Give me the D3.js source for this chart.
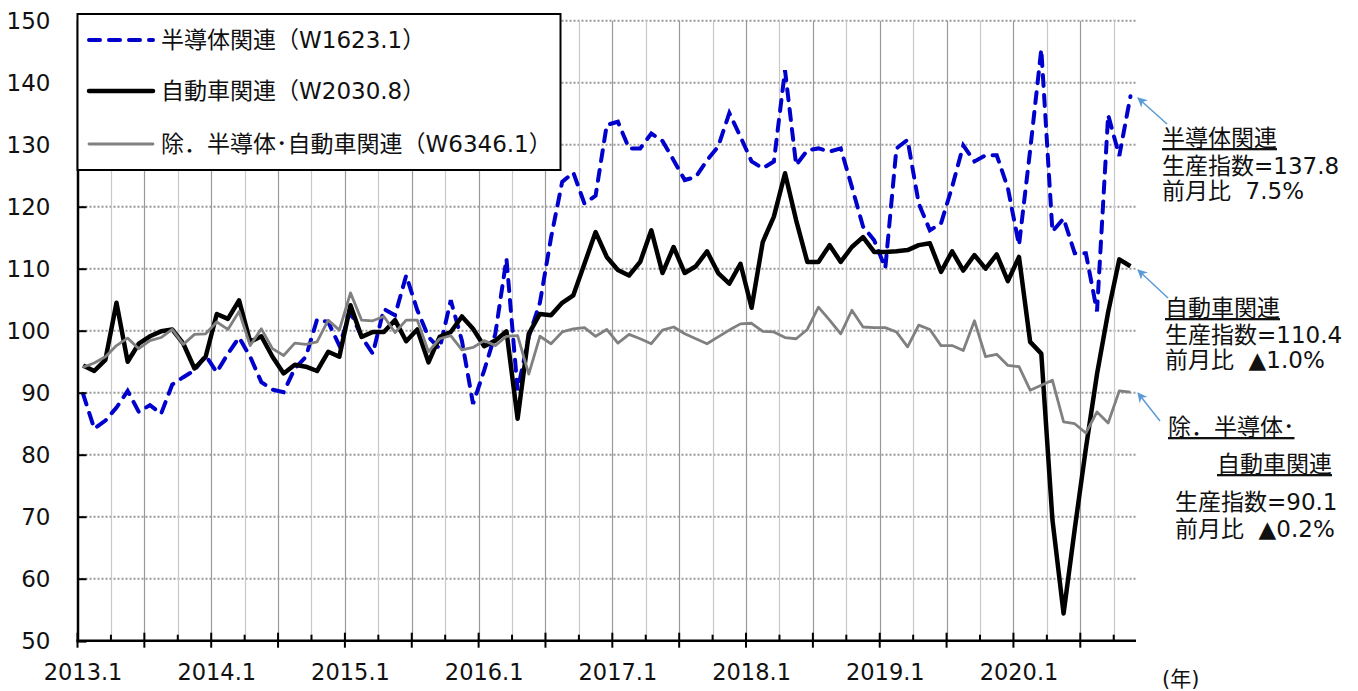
<!DOCTYPE html>
<html>
<head>
<meta charset="utf-8">
<script src="https://cdn.jsdelivr.net/npm/d3@7"></script>
<style>
  body { margin: 0; background: #fff; }
  text { font-family: "DejaVu Sans", "Noto Sans CJK JP", sans-serif; fill: #111; }
</style>
</head>
<body>
<script>
// monthly categories 2013.1 - 2020.11
var months = [];
for (var yr = 2013; yr <= 2020; yr++) {
  for (var m = 1; m <= 12; m++) {
    if (yr == 2020 && m > 11) break;
    months.push(yr + "." + m);
  }
}
var yearLabels = ["2013.1", "2014.1", "2015.1", "2016.1", "2017.1", "2018.1", "2019.1", "2020.1"];
var yTicks = [50, 60, 70, 80, 90, 100, 110, 120, 130, 140, 150];

var seriesNames = ["半導体関連（W1623.1）", "自動車関連（W2030.8）", "除．半導体･自動車関連（W6346.1）"];

// 半導体関連
var semi = [89.8, 84.2, 85.5, 87.6, 90.3, 86.9, 88.0, 86.6, 91.3, 92.5, 93.6, 96.0,
  93.3, 96.3, 98.9, 95.8, 91.7, 90.5, 90.1, 93.9, 95.8, 101.8, 101.4, 97.6,
  103.0, 99.0, 96.3, 103.5, 102.5, 108.9, 103.3, 99.0, 97.1, 104.9, 98.4, 88.2,
  93.6, 99.5, 111.6, 90.4, 99.0, 104.5, 115.0, 124.0, 125.5, 120.5, 121.8, 133.2,
  133.7, 129.4, 129.4, 131.8, 130.6, 127.5, 124.3, 124.8, 127.5, 129.7, 135.1, 131.3,
  127.3, 126.2, 127.3, 142.0, 126.7, 129.1, 129.4, 128.9, 129.4, 123.2, 116.8, 114.6,
  110.1, 129.4, 130.8, 120.5, 116.2, 117.3, 123.2, 129.9, 127.3, 128.3, 128.3, 123.0,
  113.8, 129.1, 145.4, 116.0, 118.1, 112.5, 112.5, 103.1, 134.8, 128.2, 137.8];

// 自動車関連
var auto = [94.4, 93.5, 95.3, 104.5, 95.0, 97.9, 99.1, 99.9, 100.2, 97.9, 93.9, 95.8,
  102.7, 101.9, 104.9, 98.2, 99.1, 95.8, 93.1, 94.5, 94.2, 93.5, 96.6, 95.8,
  104.1, 99.0, 99.8, 99.8, 101.7, 98.3, 100.2, 94.9, 99.0, 99.8, 102.3, 100.3,
  97.5, 98.4, 99.9, 85.8, 99.5, 102.7, 102.5, 104.5, 105.7, 110.8, 115.9, 111.9,
  109.8, 108.9, 111.1, 116.2, 109.3, 113.5, 109.3, 110.4, 112.8, 109.3, 107.6, 110.8,
  103.7, 114.3, 118.4, 125.4, 117.8, 111.1, 111.1, 113.8, 111.1, 113.5, 115.1, 112.7,
  112.7, 112.8, 113.0, 113.8, 114.1, 109.5, 112.8, 109.7, 112.2, 110.0, 112.3, 108.0,
  111.9, 98.2, 96.3, 69.5, 54.4, 68.0, 81.0, 93.0, 103.0, 111.5, 110.4];

// 除．半導体･自動車関連
var other = [94.1, 94.8, 95.8, 97.6, 98.8, 97.1, 98.4, 98.9, 100.2, 97.8, 99.4, 99.5,
  101.4, 100.2, 103.1, 97.6, 100.3, 97.1, 96.0, 98.0, 97.8, 98.2, 101.7, 100.1,
  106.1, 101.7, 101.6, 102.3, 99.7, 101.7, 101.7, 96.6, 98.7, 99.2, 96.9, 97.3,
  98.4, 97.6, 99.1, 99.2, 93.0, 99.1, 97.9, 99.8, 100.3, 100.5, 99.1, 100.2,
  98.0, 99.4, 98.7, 97.9, 100.1, 100.6, 99.5, 98.7, 97.9, 99.0, 100.1, 101.1,
  101.2, 99.9, 99.8, 98.9, 98.7, 100.2, 103.8, 101.7, 99.5, 103.3, 100.6, 100.5,
  100.5, 99.8, 97.4, 100.9, 100.2, 97.6, 97.6, 96.8, 101.6, 95.8, 96.2, 94.4,
  94.2, 90.4, 91.2, 92.0, 85.3, 85.0, 83.5, 86.9, 85.1, 90.3, 90.1];

(function(){

var width = 1358, height = 691;
var plotL = 77.5, plotR = 1136, plotT = 20.7, plotB = 640.7;

var svg = d3.select("body").append("svg")
  .attr("width", width)
  .attr("height", height);

var x = d3.scaleBand().domain(months).range([plotL, plotR]).padding(0);
var y = d3.scaleLinear().domain([50, 150]).range([plotB, plotT]);
var half = x.bandwidth() / 2;

// horizontal dotted grid
svg.append("g").selectAll("line")
  .data(yTicks.slice(1))
  .enter().append("line")
  .attr("x1", plotL).attr("x2", plotR)
  .attr("y1", function(d){ return y(d); })
  .attr("y2", function(d){ return y(d); })
  .attr("stroke", "#999")
  .attr("stroke-width", 2)
  .attr("stroke-dasharray", "2,2");

// vertical grid every quarter (darker every half year)
var bounds = months.filter(function(d, i){ return i > 0 && i % 3 == 0; });
svg.append("g").selectAll("line")
  .data(bounds)
  .enter().append("line")
  .attr("x1", function(d){ return Math.round(x(d)) + 0.5; })
  .attr("x2", function(d){ return Math.round(x(d)) + 0.5; })
  .attr("y1", plotT).attr("y2", plotB)
  .attr("stroke", function(d){ return months.indexOf(d) % 6 == 0 ? "#999" : "#c8c8c8"; })
  .attr("stroke-width", 1.2);

// lines
var line = d3.line()
  .x(function(d, i){ return x(months[i]) + half; })
  .y(function(d){ return y(d); });

svg.append("path").datum(semi)
  .attr("d", line)
  .attr("fill", "none")
  .attr("stroke", "#0000cc")
  .attr("stroke-width", 4)
  .attr("stroke-linecap", "round")
  .attr("stroke-dasharray", "11,9");

svg.append("path").datum(auto)
  .attr("d", line)
  .attr("fill", "none")
  .attr("stroke", "#000")
  .attr("stroke-width", 4.5)
  .attr("stroke-linejoin", "round");

svg.append("path").datum(other)
  .attr("d", line)
  .attr("fill", "none")
  .attr("stroke", "#808080")
  .attr("stroke-width", 2.8)
  .attr("stroke-linejoin", "round");

// y axis
var yAxis = svg.append("g")
  .attr("transform", "translate(" + plotL + ",0)")
  .call(d3.axisLeft(y).tickValues(yTicks).tickSize(-9).tickPadding(27));
yAxis.select(".domain").attr("stroke", "#000").attr("stroke-width", 2.5);
yAxis.selectAll(".tick line").attr("stroke", "#000").attr("stroke-width", 2);
yAxis.selectAll(".tick text")
  .style("font-size", "23px")
  .attr("fill", "#111");

// x axis line and ticks
svg.append("line")
  .attr("x1", plotL - 1).attr("x2", plotR)
  .attr("y1", plotB).attr("y2", plotB)
  .attr("stroke", "#000").attr("stroke-width", 2.5);

var tickB = months.filter(function(d, i){ return i % 3 == 0; });
svg.append("g").selectAll("line")
  .data(tickB)
  .enter().append("line")
  .attr("x1", function(d){ return x(d); })
  .attr("x2", function(d){ return x(d); })
  .attr("y1", function(d){ return months.indexOf(d) % 6 == 0 ? plotB - 8 : plotB - 6; })
  .attr("y2", function(d){ return months.indexOf(d) % 6 == 0 ? plotB + 7 : plotB; })
  .attr("stroke", "#000").attr("stroke-width", 2);

var xAxis = svg.append("g")
  .attr("transform", "translate(0," + plotB + ")")
  .call(d3.axisBottom(x).tickValues(yearLabels).tickSize(0).tickPadding(23));
xAxis.select(".domain").remove();
xAxis.selectAll(".tick text")
  .style("font-size", "22.5px")
  .attr("fill", "#111");

svg.append("text")
  .attr("x", 1162).attr("y", 686)
  .style("font-size", "21px")
  .text("(年)");

// legend
var lg = svg.append("g");
lg.append("rect")
  .attr("x", 77.5).attr("y", 14)
  .attr("width", 483).attr("height", 156)
  .attr("fill", "#fff")
  .attr("stroke", "#000").attr("stroke-width", 2);

var legStyles = [
  {c: "#0000cc", w: 4, dash: "11,9"},
  {c: "#000", w: 4.5, dash: null},
  {c: "#808080", w: 2.8, dash: null}
];
var legY = [40, 91, 144];
seriesNames.forEach(function(name, i){
  var l = lg.append("line")
    .attr("x1", 89).attr("x2", 153)
    .attr("y1", legY[i]).attr("y2", legY[i])
    .attr("stroke", legStyles[i].c)
    .attr("stroke-width", legStyles[i].w)
    .attr("stroke-linecap", "round");
  if (legStyles[i].dash) l.attr("stroke-dasharray", legStyles[i].dash);
  lg.append("text")
    .attr("x", 161).attr("y", legY[i] + 8)
    .style("font-size", "23px")
    .text(name);
});

// right-side annotations
var notes = [
  {tip: [1138, 98], tail: [1167, 124], head: ["半導体関連"], hx: [1162], hy: [146],
   lines: ["生産指数=137.8", "前月比  7.5%"], lx: 1162, ly: [174, 199]},
  {tip: [1138, 270], tail: [1168, 298], head: ["自動車関連"], hx: [1165], hy: [316],
   lines: ["生産指数=110.4", "前月比  ▲1.0%"], lx: 1165, ly: [343, 368]},
  {tip: [1138, 393], tail: [1160, 421], head: ["除．半導体･", "自動車関連"], hx: [1168, 1217], hy: [435, 472],
   lines: ["生産指数=90.1", "前月比  ▲0.2%"], lx: 1175, ly: [510, 537]}
];

var defs = svg.append("defs");
defs.append("marker")
  .attr("id", "arr")
  .attr("viewBox", "0 0 10 10")
  .attr("refX", 9).attr("refY", 5)
  .attr("markerWidth", 10).attr("markerHeight", 10)
  .attr("markerUnits", "userSpaceOnUse")
  .attr("orient", "auto")
  .append("path")
  .attr("d", "M0,0 L10,5 L0,10 L3,5 Z")
  .attr("fill", "#5b9bd5");

notes.forEach(function(n){
  svg.append("line")
    .attr("x1", n.tail[0]).attr("y1", n.tail[1])
    .attr("x2", n.tip[0]).attr("y2", n.tip[1])
    .attr("stroke", "#5b9bd5").attr("stroke-width", 1.5)
    .attr("marker-end", "url(#arr)");
  n.head.forEach(function(h, j){
    svg.append("text")
      .attr("x", n.hx[j]).attr("y", n.hy[j])
      .style("font-size", "23px")
      .style("text-decoration", "underline")
      .text(h);
  });
  n.lines.forEach(function(s, j){
    svg.append("text")
      .attr("x", n.lx).attr("y", n.ly[j])
      .style("font-size", "23px")
      .style("white-space", "pre")
      .text(s);
  });
});

})();
</script>
</body>
</html>
